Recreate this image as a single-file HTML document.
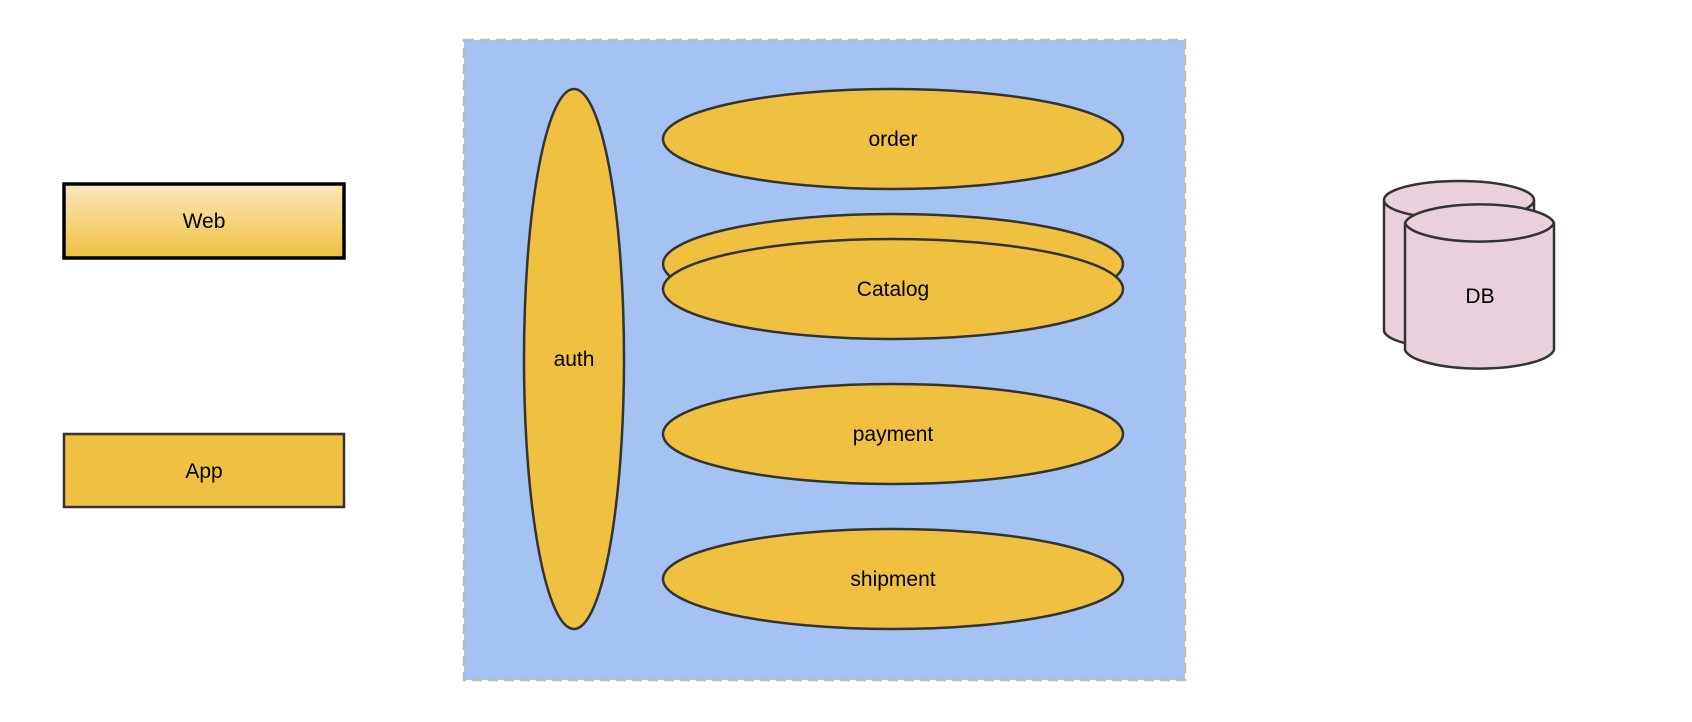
<!DOCTYPE html>
<html><head><meta charset="utf-8"><style>
html,body{margin:0;padding:0;background:#fff;}
svg{display:block;}
text{font-family:"Liberation Sans",Arial,sans-serif;font-size:21px;fill:#000;}
</style></head><body>
<svg width="1692" height="722" viewBox="0 0 1692 722" xmlns="http://www.w3.org/2000/svg">
<defs>
<linearGradient id="g" x1="0" y1="0" x2="0" y2="1">
<stop offset="0" stop-color="#f9e8bb"/><stop offset="1" stop-color="#f0c040"/>
</linearGradient>
</defs>
<rect x="64" y="184" width="280" height="74" fill="url(#g)" stroke="#000" stroke-width="3.5"/>
<text x="204" y="228" text-anchor="middle">Web</text>
<rect x="64" y="434" width="280" height="73" fill="#f0c040" stroke="#333" stroke-width="2.5"/>
<text x="204" y="478" text-anchor="middle">App</text>

<rect x="464" y="40" width="721" height="640" fill="#a4c2f2" stroke="#bbb" stroke-width="2.5" stroke-dasharray="10,6"/>
<g fill="#f0c040" stroke="#333" stroke-width="2.5">
<ellipse cx="574" cy="359" rx="50" ry="270"/>
<ellipse cx="893" cy="139" rx="230" ry="50"/>
<ellipse cx="893" cy="264" rx="230" ry="50"/>
<ellipse cx="893" cy="289" rx="230" ry="50"/>
<ellipse cx="893" cy="434" rx="230" ry="50"/>
<ellipse cx="893" cy="579" rx="230" ry="50"/>
</g>
<text x="574" y="366" text-anchor="middle">auth</text>
<text x="893" y="146" text-anchor="middle">order</text>
<text x="893" y="296" text-anchor="middle">Catalog</text>
<text x="893" y="441" text-anchor="middle">payment</text>
<text x="893" y="586" text-anchor="middle">shipment</text>

<g fill="#e8d0dc" stroke="#333" stroke-width="2.5">
<path d="M1384 200 A75 19 0 0 1 1534 200 L1534 330 A75 19 0 0 1 1384 330 Z"/>
<path d="M1384 200 A75 19 0 0 0 1534 200"/>
<path d="M1405 223 A75 21 0 0 1 1554 223 L1554 350 A75 21 0 0 1 1405 350 Z"/>
<path d="M1405 223 A75 21 0 0 0 1554 223"/>
</g>
<text x="1480" y="303" text-anchor="middle">DB</text>
</svg>
</body></html>
